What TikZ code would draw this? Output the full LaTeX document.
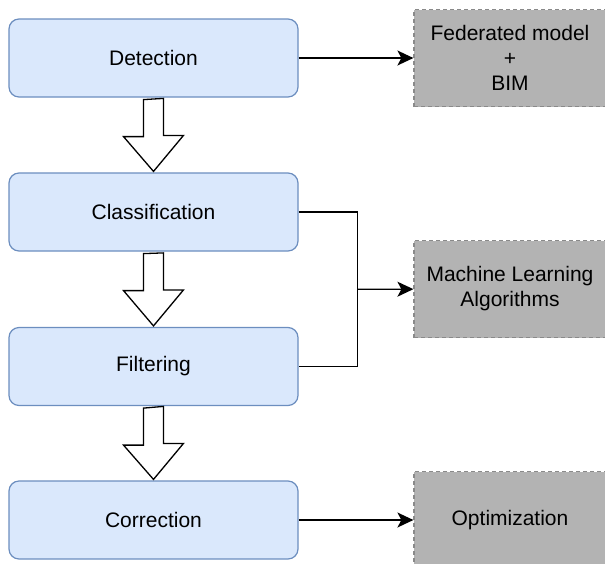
\documentclass[tikz,border=0pt]{standalone}
\usepackage{fontspec}
\setmainfont{Liberation Sans}
\usetikzlibrary{arrows.meta,calc}
\definecolor{stepfill}{HTML}{DAE8FC}
\definecolor{stepline}{HTML}{6C8EBF}
\definecolor{toolfill}{HTML}{B3B3B3}
\definecolor{toolline}{HTML}{8A8A8A}
\begin{document}
\begin{tikzpicture}[x=1pt,y=-1pt,
  stepbox/.style={draw=stepline,fill=stepfill,line width=1.2pt,rounded corners=10pt,
    minimum width=289pt,minimum height=78pt,font=\fontsize{21}{25}\selectfont},
  toolbox/.style={draw=toolline,fill=toolfill,dash pattern=on 4pt off 3pt,line width=1.2pt,
    align=center,minimum width=192pt,minimum height=97pt,font=\fontsize{21}{25}\selectfont},
  link/.style={line width=1.3pt,-{Stealth[length=16pt,width=15pt,inset=4pt]}},
  bigarrow/.style={draw,line width=1.3pt,fill=white,line join=miter}]
\useasboundingbox (0,0) rectangle (605,563);
\node[stepbox] (det) at (153.5,58) {Detection};
\node[stepbox] (cls) at (153.5,212) {Classification};
\node[stepbox] (flt) at (153.5,366.5) {Filtering};
\node[stepbox] (cor) at (153.5,520) {Correction};
\node[toolbox] (fed) at (510,58) {Federated model\\+\\BIM};
\node[toolbox] (mla) at (510,289) {Machine Learning\\Algorithms};
\node[toolbox] (opt) at (510,520) {Optimization};
% hollow arrows between the steps
\foreach \a/\b in {det/cls,cls/flt,flt/cor}
  \draw[bigarrow] ($(\a.south)+(-10,2)$) -- ++(0,37) -- ++(-20,0) -- ($(\b.north)+(0,-1)$)
    -- ++(30,-36) -- ++(-20,0) -- ++(0,-37) -- cycle;
\draw[link] (det) -- (fed);
\draw[line width=1.3pt] (cls.east) -- ++(59,0) coordinate (join) |- (flt.east);
\coordinate (mid) at ($(join)!0.5!(join |- flt.east)$);
\draw[link] (mid) -- (mla);
\draw[link] (cor) -- (opt);
\end{tikzpicture}
\end{document}
